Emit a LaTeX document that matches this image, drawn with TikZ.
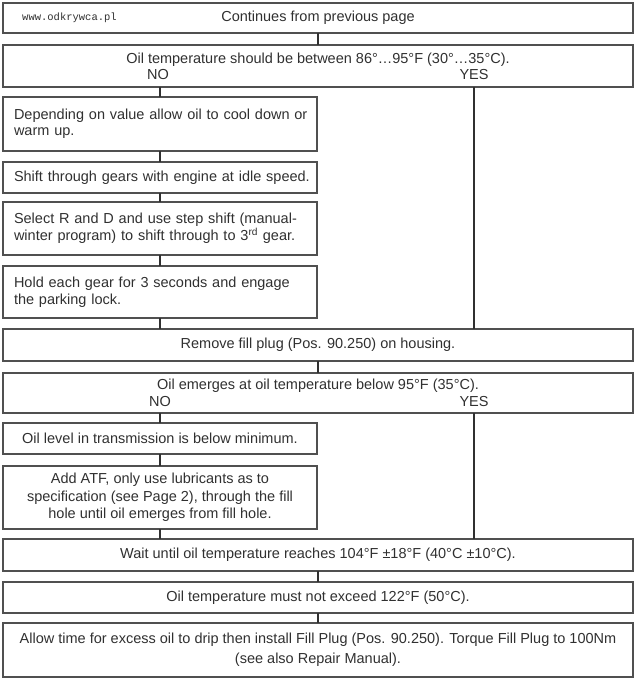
\documentclass[tikz,border=0pt]{standalone}
\usepackage{fontspec}
\setmainfont{Liberation Sans}
\setmonofont{Liberation Mono}
\definecolor{boxc}{HTML}{505050}
\definecolor{txt}{HTML}{303030}
\begin{document}
\begin{tikzpicture}[x=1pt,y=-1pt,
  box/.style={draw=boxc, line width=1.5pt, rectangle, inner sep=0pt, outer sep=0pt, anchor=north west,
    font=\fontsize{14.5}{16.5}\selectfont, text=txt},
  full/.style={box, minimum width=630pt},
  half/.style={box, minimum width=314pt},
  lefttext/.style={text width=292pt, align=left},
  ctext/.style={align=center},
  conn/.style={draw=txt, line width=1.8pt},
  lbl/.style={font=\fontsize{14.5}{16.5}\selectfont, text=txt, inner sep=0pt}]
\useasboundingbox (0,0) rectangle (640,679);

\node[full, minimum height=30pt] (b1) at (3,3) {Continues from previous page};
\node[lbl, font=\ttfamily\fontsize{10.5}{12}\selectfont, anchor=west] (wm) at (22,18) {www.odkrywca.pl};

\node[full, minimum height=42pt] (b2) at (3,45) {};
\node[lbl] (q1) at (318,60) {Oil temperature should be between 86°…95°F (30°…35°C).};
\node[lbl] (no1) at (158,75) {NO};
\node[lbl] (yes1) at (474,75) {YES};

\node[half, minimum height=54pt, lefttext] (b3) at (3,97) {\mbox{Depending on value allow oil to cool down or}\\\mbox{warm up.}};
\node[half, minimum height=31pt, lefttext] (b4) at (3,162) {\mbox{Shift through gears with engine at idle speed.}};
\node[half, minimum height=53pt, lefttext] (b5) at (3,202) {\mbox{Select R and D and use step shift (manual-}\\\mbox{winter program) to shift through to 3\textsuperscript{rd} gear.}};
\node[half, minimum height=52pt, lefttext] (b6) at (3,266) {\mbox{Hold each gear for 3 seconds and engage}\\\mbox{the parking lock.}};

\node[full, minimum height=32pt] (b7) at (3,329) {Remove fill plug (Pos. 90.250) on housing.};

\node[full, minimum height=40pt] (b8) at (3,373) {};
\node[lbl] (q2) at (318,386) {Oil emerges at oil temperature below 95°F (35°C).};
\node[lbl] (no2) at (160,402) {NO};
\node[lbl] (yes2) at (474,402) {YES};

\node[half, minimum height=31pt, ctext] (b9) at (3,423) {Oil level in transmission is below minimum.};
\node[half, minimum height=63pt, ctext, font=\fontsize{14.5}{17.5}\selectfont] (b10) at (3,466) {Add ATF, only use lubricants as to\\specification (see Page 2), through the fill\\hole until oil emerges from fill hole.};

\node[full, minimum height=32pt] (b11) at (3,539) {Wait until oil temperature reaches 104°F ±18°F (40°C ±10°C).};
\node[full, minimum height=31pt] (b12) at (3,582) {Oil temperature must not exceed 122°F (50°C).};
\node[full, minimum height=54pt, ctext, font=\fontsize{14.5}{20}\selectfont] (b13) at (3,623) {Allow time for excess oil to drip then install Fill Plug (Pos. 90.250). Torque Fill Plug to 100Nm\\(see also Repair Manual).};

\draw[conn] (b1.south) -- (b2.north);
\draw[conn] (b3.north |- b2.south) -- (b3.north);
\draw[conn] (yes1 |- b2.south) -- (yes1 |- b7.north);
\draw[conn] (b3.south) -- (b4.north);
\draw[conn] (b4.south) -- (b5.north);
\draw[conn] (b5.south) -- (b6.north);
\draw[conn] (b6.south) -- (b6.south |- b7.north);
\draw[conn] (b7.south) -- (b8.north);
\draw[conn] (b9.north |- b8.south) -- (b9.north);
\draw[conn] (yes2 |- b8.south) -- (yes2 |- b11.north);
\draw[conn] (b9.south) -- (b10.north);
\draw[conn] (b10.south) -- (b10.south |- b11.north);
\draw[conn] (b11.south) -- (b12.north);
\draw[conn] (b12.south) -- (b13.north);
\end{tikzpicture}
\end{document}
